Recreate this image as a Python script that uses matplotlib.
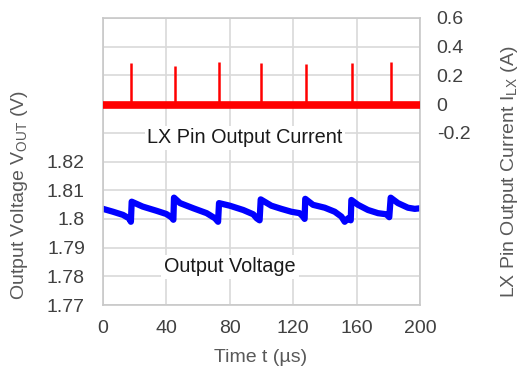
import matplotlib
matplotlib.use('Agg')
import matplotlib.pyplot as plt

plt.rcParams['font.family'] = ['Liberation Sans', 'DejaVu Sans']
plt.rcParams['mathtext.fontset'] = 'custom'
plt.rcParams['mathtext.rm'] = 'Liberation Sans'

# output voltage trace (us, V)
t_vout = [0, 6.3, 12.6, 16.4, 17.6, 18.1, 25, 33.9, 40, 43.3, 44.4, 44.8, 48.6, 57,
          65.4, 70.7, 72.6, 73.2, 80, 88.5, 94.8, 97, 98.8, 99.5, 106.2, 112.5,
          118.8, 124, 126.2, 127.2, 127.6, 132.5, 139.9, 146.2, 150.4, 152.5,
          154.6, 156.3, 156.7, 160.9, 167.2, 173.5, 178.8, 180.6, 181.5, 186.1,
          192.4, 196.7, 200]
vout = [1.8035, 1.8025, 1.8014, 1.8002, 1.7990, 1.8060, 1.8043, 1.8028, 1.8017,
        1.8005, 1.7997, 1.8074, 1.8055, 1.8037, 1.8020, 1.8002, 1.7990, 1.8055,
        1.8046, 1.8031, 1.8016, 1.8002, 1.7995, 1.8068, 1.8046, 1.8035, 1.8025,
        1.8020, 1.8008, 1.8000, 1.8070, 1.8049, 1.8039, 1.8025, 1.8008, 1.7990,
        1.8002, 1.7995, 1.8066, 1.8049, 1.8031, 1.8020, 1.8016, 1.8006, 1.8074,
        1.8055, 1.8039, 1.8035, 1.8037]

# LX pin current: flat baseline with short pulses at each switching event
t_base = [0, 200]
ilx_base = [-0.008, -0.008]
t_spike = [17.9, 45.2, 73.2, 99.6, 128.0, 156.9, 182.0]
ilx_spike = [0.284, 0.268, 0.29, 0.284, 0.277, 0.284, 0.29]

x_ticks = [0, 40, 80, 120, 160, 200]
v_ticks = [1.77, 1.78, 1.79, 1.80, 1.81, 1.82, 1.83, 1.84, 1.85, 1.86, 1.87]
v_labels = ['1.77', '1.78', '1.79', '1.8', '1.81', '1.82', '', '', '', '', '']
i_ticks = [-0.2, 0, 0.2, 0.4, 0.6]
i_labels = ['-0.2', '0', '0.2', '0.4', '0.6']

tick_col = '#404040'
label_col = '#595959'
fs = 14

fig = plt.figure(figsize=(5.2, 3.72), dpi=100)
ax = fig.add_axes([103 / 520, 1 - 305 / 372, 317 / 520, 287 / 372])
ax2 = ax.twinx()

ax.plot(t_vout, vout, color='#0000ff', lw=4.5, solid_joinstyle='round')
ax.set_xlim(0, 200)
ax.set_ylim(1.77, 1.87)
ax.set_xticks(x_ticks)
ax.set_yticks(v_ticks)
ax.set_yticklabels(v_labels)
ax.grid(True, color='#d9d9d9', lw=1.2)
ax.set_axisbelow(True)
ax.tick_params(length=0, labelsize=fs, colors=tick_col, pad=11)
ax.tick_params(axis='y', pad=13)
for s in ax.spines.values():
    s.set_color('#c8c8c8')
    s.set_linewidth(1.2)

ax2.plot(t_base, ilx_base, color='#ff0000', lw=5.5, solid_capstyle='butt')
ax2.vlines(t_spike, 0, ilx_spike, color='#ff0000', lw=1.8)
ax2.set_ylim(-1.4, 0.6)
ax2.set_yticks(i_ticks)
ax2.set_yticklabels(i_labels)
ax2.tick_params(length=0, labelsize=fs, colors=tick_col, pad=12)
for s in ax2.spines.values():
    s.set_visible(False)

box = dict(facecolor='white', edgecolor='none', pad=2)
ax2.text(89.6, -0.235, 'LX Pin Output Current', ha='center', va='center',
         fontsize=14.3, color='#1a1a1a', bbox=box, zorder=5)
ax2.text(80.1, -1.135, 'Output Voltage', ha='center', va='center',
         fontsize=14.3, color='#1a1a1a', bbox=box, zorder=5)

fig.text(20 / 520, 1 - 195 / 372, r'Output Voltage V$_{\rm OUT}$ (V)',
         rotation=90, ha='center', va='center', fontsize=fs, color=label_col)
fig.text(510 / 520, 1 - 172 / 372, r'LX Pin Output Current I$_{\rm LX}$ (A)',
         rotation=90, ha='center', va='center', fontsize=fs, color=label_col)
fig.text(261 / 520, 1 - 358 / 372, 'Time t (µs)', ha='center', va='center',
         fontsize=fs, color=label_col)

fig.savefig('out.png', dpi=100)
